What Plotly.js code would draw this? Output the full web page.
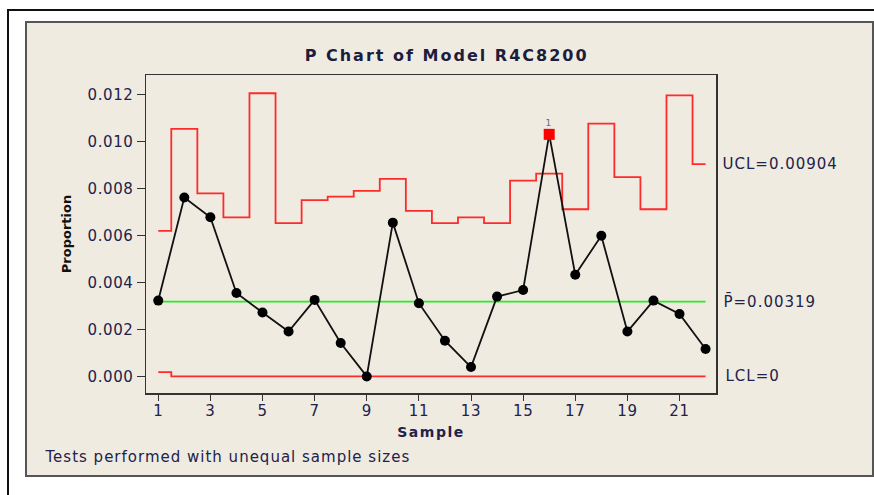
<!DOCTYPE html>
<html>
<head>
<meta charset="utf-8">
<script src="https://cdn.plot.ly/plotly-3.0.1.min.js"></script>
<style>
  html, body { margin: 0; padding: 0; background: #ffffff; }
  #chart { width: 874px; height: 495px; }
  #chart .gtitle { letter-spacing: 2px; }
  #chart .xtick text, #chart .ytick text { letter-spacing: 0.6px; }
  #chart .xtitle { letter-spacing: 1.5px; }
  #chart .annotation-text { letter-spacing: 1px; }
</style>
</head>
<body>
<div id="chart"></div>
<script>
// ---- data ----
const samples = [1, 2, 3, 4, 5, 6, 7, 8, 9, 10, 11, 12, 13, 14, 15, 16, 17, 18, 19, 20, 21, 22];
const proportion = [0.00323, 0.00762, 0.00678, 0.00355, 0.00272, 0.00191, 0.00326, 0.00142, 0.00000, 0.00655, 0.00312,
                    0.00152, 0.00040, 0.00340, 0.00368, 0.01031, 0.00433, 0.00599, 0.00191, 0.00323, 0.00266, 0.00117];
const ucl = [0.00620, 0.01054, 0.00780, 0.00677, 0.01206, 0.00653, 0.00751, 0.00766, 0.00790, 0.00841, 0.00705,
             0.00653, 0.00677, 0.00653, 0.00834, 0.00864, 0.00712, 0.01077, 0.00849, 0.00712, 0.01197, 0.00904];
const lcl = [0.00018, 0, 0, 0, 0, 0, 0, 0, 0, 0, 0, 0, 0, 0, 0, 0, 0, 0, 0, 0, 0, 0];
const pbar = 0.00319;
const uclLast = 0.00904;
const lclLast = 0;
const flagged = [16];          // samples failing test 1
const flagLabel = "1";
const xTickVals = [1, 3, 5, 7, 9, 11, 13, 15, 17, 19, 21];
const yTickVals = [0, 0.002, 0.004, 0.006, 0.008, 0.010, 0.012];
const chartTitle = "P Chart of Model R4C8200";
const xTitle = "Sample";
const yTitle = "Proportion";
const footnote = "Tests performed with unequal sample sizes";

// ---- styling ----
const txt = "#22224a";
const font = "DejaVu Sans, Verdana, sans-serif";

const markerColors = samples.map(s => flagged.includes(s) ? "#ff0000" : "#000000");
const markerSymbols = samples.map(s => flagged.includes(s) ? "square" : "circle");
const markerSizes = samples.map(s => flagged.includes(s) ? 11 : 10);

const traces = [
  { x: samples, y: ucl, type: "scatter", mode: "lines",
    line: { color: "#ff2a2a", width: 1.8, shape: "hvh" }, hoverinfo: "skip" },
  { x: samples, y: lcl, type: "scatter", mode: "lines",
    line: { color: "#ff2a2a", width: 1.8, shape: "hvh" }, hoverinfo: "skip" },
  { x: samples, y: samples.map(() => pbar), type: "scatter", mode: "lines",
    line: { color: "#22ee22", width: 1.8 }, hoverinfo: "skip" },
  { x: samples, y: proportion, type: "scatter", mode: "lines+markers",
    line: { color: "#111111", width: 1.8 },
    marker: { color: markerColors, symbol: markerSymbols, size: markerSizes, opacity: 1, line: { width: 0 } } }
];

const annotations = [
  { xref: "paper", yref: "y", x: 1, y: uclLast, xanchor: "left", yanchor: "middle", xshift: 10,
    text: "UCL=" + uclLast.toFixed(5), showarrow: false, font: { family: font, size: 15, color: txt } },
  { xref: "paper", yref: "y", x: 1, y: pbar, xanchor: "left", yanchor: "middle", xshift: 10,
    text: "P\u0304=" + pbar.toFixed(5), showarrow: false, font: { family: font, size: 15, color: txt } },
  { xref: "paper", yref: "y", x: 1, y: lclLast, xanchor: "left", yanchor: "middle", xshift: 10,
    text: "LCL=" + lclLast, showarrow: false, font: { family: font, size: 15, color: txt } },
  { xref: "paper", yref: "paper", x: 0, y: 0, xanchor: "left", yanchor: "middle", xshift: -83, yshift: -64,
    text: footnote, showarrow: false, font: { family: font, size: 15, color: txt } }
];
flagged.forEach(s => {
  annotations.push({ x: s, y: proportion[s - 1], xref: "x", yref: "y", yshift: 11,
    text: flagLabel, showarrow: false, font: { family: font, size: 9, color: "#5a6f8f" } });
});

const layout = {
  width: 874, height: 495,
  margin: { l: 146, r: 158, t: 75, b: 102 },
  paper_bgcolor: "#ffffff",
  plot_bgcolor: "#ffffff",
  showlegend: false,
  title: { text: chartTitle, x: 0.511, xanchor: "center", y: 1 - 55 / 495, yanchor: "middle", yref: "container",
           font: { family: font, size: 16, color: "#1c1c3c", weight: "bold" } },
  xaxis: {
    range: [0.53, 22.4], tickvals: xTickVals, ticks: "outside", ticklen: 6, tickwidth: 1, tickcolor: "#333",
    ticklabelstandoff: -3,
    showgrid: false, zeroline: false, showline: true, mirror: true, linecolor: "#333", linewidth: 1.5,
    tickfont: { family: font, size: 15, color: txt },
    title: { text: xTitle, standoff: 8, font: { family: font, size: 14, color: txt, weight: "bold" } }
  },
  yaxis: {
    range: [-0.000706, 0.012838], tickvals: yTickVals, tickformat: ".3f",
    ticks: "outside", ticklen: 8, tickwidth: 1, tickcolor: "#333",
    showgrid: false, zeroline: false, showline: true, mirror: true, linecolor: "#333", linewidth: 1.5,
    tickfont: { family: font, size: 15, color: txt },
    title: { text: yTitle, standoff: 16, font: { family: font, size: 13, color: "#111", weight: "bold" } }
  },
  shapes: [
    // beige panel
    { type: "rect", xref: "paper", yref: "paper", layer: "below",
      xsizemode: "pixel", ysizemode: "pixel", xanchor: 0, yanchor: 0,
      x0: -120, x1: 727, y0: -83, y1: 371,
      fillcolor: "#efebe1", line: { color: "#555555", width: 2 } },
    // outer black frame
    { type: "rect", xref: "paper", yref: "paper", layer: "below",
      xsizemode: "pixel", ysizemode: "pixel", xanchor: 0, yanchor: 0,
      x0: -138, x1: 760, y0: -130, y1: 383,
      fillcolor: "rgba(0,0,0,0)", line: { color: "#111111", width: 2 } }
  ],
  annotations: annotations
};

Plotly.newPlot("chart", traces, layout, { staticPlot: true, displayModeBar: false });
</script>
</body>
</html>
